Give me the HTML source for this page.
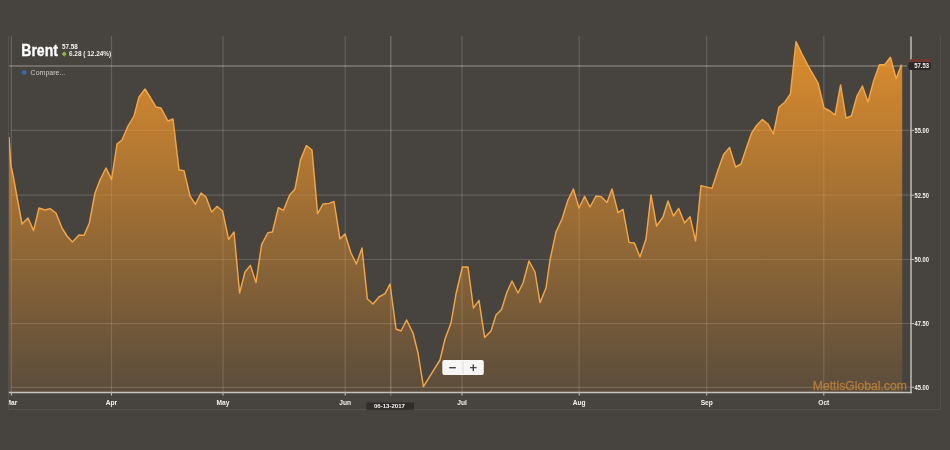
<!DOCTYPE html>
<html lang="en">
<head>
<meta charset="utf-8">
<title>Brent</title>
<style>
html,body{margin:0;padding:0;background:#47433e;}
body{width:950px;height:450px;overflow:hidden;font-family:"Liberation Sans",sans-serif;}
svg{display:block;filter:blur(0.45px);}
text{font-family:"Liberation Sans",sans-serif;}
</style>
</head>
<body>
<svg width="950" height="450" viewBox="0 0 950 450">
<defs>
<linearGradient id="fill" x1="0" y1="40" x2="0" y2="391" gradientUnits="userSpaceOnUse">
<stop offset="0" stop-color="rgb(240,150,43)" stop-opacity="0.895"/>
<stop offset="1" stop-color="rgb(240,150,43)" stop-opacity="0.117"/>
</linearGradient>
<clipPath id="plot"><rect x="8.8" y="30" width="902" height="362"/></clipPath>
<clipPath id="box"><rect x="8.8" y="30" width="932" height="380"/></clipPath>
</defs>
<rect width="950" height="450" fill="#47433e"/>
<!-- container border -->
<path d="M8.5,36 V409.5 H940.5 V36" fill="none" stroke="#ffffff" stroke-opacity="0.07" stroke-width="1"/>

<g stroke="#ffffff" stroke-opacity="0.145" stroke-width="1.2">
<line x1="11.4" y1="36" x2="11.4" y2="392"/>
<line x1="111.5" y1="36" x2="111.5" y2="392"/>
<line x1="223" y1="36" x2="223" y2="392"/>
<line x1="345.2" y1="36" x2="345.2" y2="392"/>
<line x1="462.0" y1="36" x2="462.0" y2="392"/>
<line x1="579.2" y1="36" x2="579.2" y2="392"/>
<line x1="706.7" y1="36" x2="706.7" y2="392"/>
<line x1="823.8" y1="36" x2="823.8" y2="392"/>
<line x1="11" y1="130.4" x2="911" y2="130.4"/>
<line x1="11" y1="195.2" x2="911" y2="195.2"/>
<line x1="11" y1="259.5" x2="911" y2="259.5"/>
<line x1="11" y1="323.5" x2="911" y2="323.5"/>
<line x1="11" y1="387.3" x2="911" y2="387.3"/>
</g>
<line x1="390.8" y1="36" x2="390.8" y2="396" stroke="#ffffff" stroke-opacity="0.26" stroke-width="1.2"/>
<line x1="9" y1="66" x2="907" y2="66" stroke="#ffffff" stroke-opacity="0.45" stroke-width="1.2"/>
<g clip-path="url(#plot)"><path d="M9,392 L9,137 L11,166 L13,175 L22,224 L28,218 L33.6,230.6 L39,208 L45,210 L50,208.6 L56,213 L62,228 L67,236 L72.4,242 L79,235 L84,235.4 L89.4,223 L95,193 L100,180 L106,168 L111.6,179.4 L117,144 L122,140 L128,126 L134,116 L139,97 L145,89 L150,97 L156,107 L161,108 L168,121 L173,119 L179,170 L184,170.6 L190,196 L195.4,204.4 L201,193 L206,197 L211.6,212 L217,206.4 L222.6,211 L228.6,239.4 L234,232 L239.6,293 L245,272 L250.4,265.4 L256,282.6 L261.6,244.6 L268,232.6 L272.4,232 L278.4,207.6 L283.4,210.4 L289.6,195 L295,189 L300.6,159.6 L306.4,145.6 L312,150 L317.6,213.6 L323,204 L329,203.4 L334,201.4 L340,239 L345,234 L351,253 L356.4,264 L362,248 L367.4,299 L373,304 L379,297 L385,293.6 L390,284 L396,329 L401,331 L406.6,320 L413,333 L418,353 L423.4,386.6 L440,360 L445,339 L451,323 L456,294 L462.4,267 L468,267 L473.4,308 L479,300.4 L484.6,337.4 L491,331 L496,315 L501.5,309.5 L507,292 L512,281 L518,293 L523,283 L529,261 L535,272 L540,302.6 L546,288 L550,260 L556,232 L562,219 L568,200 L573.4,189 L579,208 L584.6,196.4 L590,207 L596,196 L601,196.6 L607,202.6 L612,189 L618,212.6 L623,209.4 L629,242.4 L634.4,243 L640,257 L646,239 L651,195 L656.6,226 L663,217 L668,201 L673.4,216 L678.6,208.4 L684.6,223 L690,216.6 L695.6,241 L701,185.6 L712,188.4 L718,170 L723.6,154.4 L729.6,147.6 L735.6,167 L741,164 L746.4,148 L751.6,133 L757,125 L762.4,119.6 L768,124 L773.4,134 L779,107 L785,102 L790.4,94 L796,41.6 L802,54 L808,65.6 L818,83 L824,108 L830,111 L835,115 L840.6,85 L846,118 L851.4,116 L857,96 L862.4,86 L868,102 L873.6,81 L879.4,64.7 L884.6,64.7 L890.4,57.2 L896.2,78.6 L901.4,64.7 L902.2,64.7 L902.2,392 Z" fill="url(#fill)"/>
<polyline points="9,137 11,166 13,175 22,224 28,218 33.6,230.6 39,208 45,210 50,208.6 56,213 62,228 67,236 72.4,242 79,235 84,235.4 89.4,223 95,193 100,180 106,168 111.6,179.4 117,144 122,140 128,126 134,116 139,97 145,89 150,97 156,107 161,108 168,121 173,119 179,170 184,170.6 190,196 195.4,204.4 201,193 206,197 211.6,212 217,206.4 222.6,211 228.6,239.4 234,232 239.6,293 245,272 250.4,265.4 256,282.6 261.6,244.6 268,232.6 272.4,232 278.4,207.6 283.4,210.4 289.6,195 295,189 300.6,159.6 306.4,145.6 312,150 317.6,213.6 323,204 329,203.4 334,201.4 340,239 345,234 351,253 356.4,264 362,248 367.4,299 373,304 379,297 385,293.6 390,284 396,329 401,331 406.6,320 413,333 418,353 423.4,386.6 440,360 445,339 451,323 456,294 462.4,267 468,267 473.4,308 479,300.4 484.6,337.4 491,331 496,315 501.5,309.5 507,292 512,281 518,293 523,283 529,261 535,272 540,302.6 546,288 550,260 556,232 562,219 568,200 573.4,189 579,208 584.6,196.4 590,207 596,196 601,196.6 607,202.6 612,189 618,212.6 623,209.4 629,242.4 634.4,243 640,257 646,239 651,195 656.6,226 663,217 668,201 673.4,216 678.6,208.4 684.6,223 690,216.6 695.6,241 701,185.6 712,188.4 718,170 723.6,154.4 729.6,147.6 735.6,167 741,164 746.4,148 751.6,133 757,125 762.4,119.6 768,124 773.4,134 779,107 785,102 790.4,94 796,41.6 802,54 808,65.6 818,83 824,108 830,111 835,115 840.6,85 846,118 851.4,116 857,96 862.4,86 868,102 873.6,81 879.4,64.7 884.6,64.7 890.4,57.2 896.2,78.6 901.4,64.7" fill="none" stroke="#f2a648" stroke-width="1.45" stroke-linejoin="round"/></g>
<g stroke="#ffffff" stroke-opacity="0.02" stroke-width="1.2">
<line x1="11.4" y1="36" x2="11.4" y2="392"/>
<line x1="111.5" y1="36" x2="111.5" y2="392"/>
<line x1="223" y1="36" x2="223" y2="392"/>
<line x1="345.2" y1="36" x2="345.2" y2="392"/>
<line x1="462.0" y1="36" x2="462.0" y2="392"/>
<line x1="579.2" y1="36" x2="579.2" y2="392"/>
<line x1="706.7" y1="36" x2="706.7" y2="392"/>
<line x1="823.8" y1="36" x2="823.8" y2="392"/>
<line x1="11" y1="130.4" x2="911" y2="130.4"/>
<line x1="11" y1="195.2" x2="911" y2="195.2"/>
<line x1="11" y1="259.5" x2="911" y2="259.5"/>
<line x1="11" y1="323.5" x2="911" y2="323.5"/>
<line x1="11" y1="387.3" x2="911" y2="387.3"/>
</g>
<line x1="911" y1="36.5" x2="911" y2="393.3" stroke="#b3afa9" stroke-width="1.7"/>
<line x1="8.8" y1="392.5" x2="911.8" y2="392.5" stroke="#c6c2bc" stroke-width="1.7"/>
<g stroke="#bdb9b3" stroke-width="1.1">
<line x1="11.4" y1="392" x2="11.4" y2="395.6"/>
<line x1="111.5" y1="392" x2="111.5" y2="395.6"/>
<line x1="223" y1="392" x2="223" y2="395.6"/>
<line x1="345.2" y1="392" x2="345.2" y2="395.6"/>
<line x1="462.0" y1="392" x2="462.0" y2="395.6"/>
<line x1="579.2" y1="392" x2="579.2" y2="395.6"/>
<line x1="706.7" y1="392" x2="706.7" y2="395.6"/>
<line x1="823.8" y1="392" x2="823.8" y2="395.6"/>
<line x1="911" y1="130.4" x2="914" y2="130.4"/>
<line x1="911" y1="195.2" x2="914" y2="195.2"/>
<line x1="911" y1="259.5" x2="914" y2="259.5"/>
<line x1="911" y1="323.5" x2="914" y2="323.5"/>
<line x1="911" y1="387.3" x2="914" y2="387.3"/>
</g>
<g clip-path="url(#box)">
<text transform="translate(11.4,405.3) scale(0.85,1)" font-size="7.8" font-weight="bold" fill="#f4f2f0" text-anchor="middle">Mar</text>
<text transform="translate(111.5,405.3) scale(0.85,1)" font-size="7.8" font-weight="bold" fill="#f4f2f0" text-anchor="middle">Apr</text>
<text transform="translate(223,405.3) scale(0.85,1)" font-size="7.8" font-weight="bold" fill="#f4f2f0" text-anchor="middle">May</text>
<text transform="translate(345.2,405.3) scale(0.85,1)" font-size="7.8" font-weight="bold" fill="#f4f2f0" text-anchor="middle">Jun</text>
<text transform="translate(462,405.3) scale(0.85,1)" font-size="7.8" font-weight="bold" fill="#f4f2f0" text-anchor="middle">Jul</text>
<text transform="translate(579.2,405.3) scale(0.85,1)" font-size="7.8" font-weight="bold" fill="#f4f2f0" text-anchor="middle">Aug</text>
<text transform="translate(706.7,405.3) scale(0.85,1)" font-size="7.8" font-weight="bold" fill="#f4f2f0" text-anchor="middle">Sep</text>
<text transform="translate(823.8,405.3) scale(0.85,1)" font-size="7.8" font-weight="bold" fill="#f4f2f0" text-anchor="middle">Oct</text>
</g>
<text transform="translate(914.6,132.9) scale(0.87,1)" font-size="6.6" font-weight="bold" fill="#f4f2f0" text-anchor="start">55.00</text>
<text transform="translate(914.6,197.7) scale(0.87,1)" font-size="6.6" font-weight="bold" fill="#f4f2f0" text-anchor="start">52.50</text>
<text transform="translate(914.6,262) scale(0.87,1)" font-size="6.6" font-weight="bold" fill="#f4f2f0" text-anchor="start">50.00</text>
<text transform="translate(914.6,326) scale(0.87,1)" font-size="6.6" font-weight="bold" fill="#f4f2f0" text-anchor="start">47.50</text>
<text transform="translate(914.6,389.8) scale(0.87,1)" font-size="6.6" font-weight="bold" fill="#f4f2f0" text-anchor="start">45.00</text>
<rect x="366.3" y="402.6" width="47.7" height="7.2" rx="1" fill="#2f2d2a"/>
<text transform="translate(389.4,408.4) scale(0.98,1)" font-size="6.2" font-weight="bold" fill="#f4f2f0" text-anchor="middle">06-13-2017</text>
<path d="M908.6,62.5 L911,59.1 H929.5 Q930.8,59.1 930.8,60.4 V63 H908.6 Z" fill="#733833"/>
<rect x="908.3" y="62.1" width="22.7" height="7.8" rx="2" fill="#2b2927"/>
<text transform="translate(914.2,68.3) scale(0.9,1)" font-size="6.6" font-weight="bold" fill="#f4f2f0" text-anchor="start">57.53</text>
<text transform="translate(812.8,389.6) scale(1.025,1)" font-size="11.9" font-weight="normal" fill="#c98838" text-anchor="start" fill-opacity="0.72" stroke="#c98838" stroke-opacity="0.5" stroke-width="0.45">MettisGlobal.com</text>
<rect x="442.3" y="360" width="41.5" height="15" rx="2" fill="#f7f6f5"/>
<line x1="463" y1="361.5" x2="463" y2="373.5" stroke="#dddbd8" stroke-width="1"/>
<text x="452.6" y="371.6" font-size="13" font-weight="bold" fill="#47433e" text-anchor="middle">−</text>
<text x="473.3" y="371.8" font-size="13" font-weight="bold" fill="#47433e" text-anchor="middle">+</text>
<text transform="translate(21.3,56) scale(0.86,1)" font-size="16.3" font-weight="bold" fill="#ffffff" text-anchor="start" stroke="#ffffff" stroke-width="0.35">Brent</text>
<text transform="translate(62,48.5) scale(1,1)" font-size="6.3" font-weight="bold" fill="#f4f2f0" text-anchor="start">57.58</text>
<path d="M64.2,51.3 L66.6,54 L64.2,56.7 L61.8,54 Z" fill="#93b53c"/>
<text transform="translate(69,56.4) scale(1,1)" font-size="6.45" font-weight="bold" fill="#f4f2f0" text-anchor="start">6.28 ( 12.24%)</text>
<circle cx="24.2" cy="72.6" r="2.4" fill="#3a6aae"/>
<text transform="translate(30.6,75.3) scale(1,1)" font-size="7" font-weight="normal" fill="#cfcbc6" text-anchor="start">Compare...</text>
</svg>
</body>
</html>
